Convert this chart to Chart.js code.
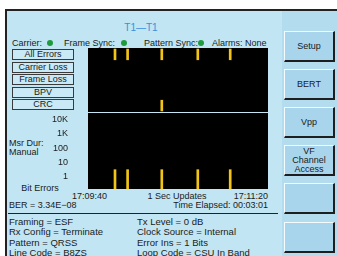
<!DOCTYPE html>
<html>
<head>
<meta charset="utf-8">
<script src="https://cdn.jsdelivr.net/npm/chart.js@4.4.0/dist/chart.umd.min.js"></script>
<style>
body { margin: 0; width: 337px; height: 256px; overflow: hidden; background: #fff; font-family: "Liberation Sans", Arial, sans-serif; color: #1b1b1b; position: relative; }
#screen { position: absolute; left: 5px; top: 9px; width: 332px; height: 247px; background: #c1e5f2; border-left: 2px solid #222; border-top: 2px solid #222; box-sizing: border-box; }
#side { position: absolute; left: 282px; top: 11px; width: 55px; height: 245px; background: #b3dcee; }
.t { position: absolute; white-space: nowrap; font-size: 9px; line-height: 11px; }
.dot { position: absolute; width: 6px; height: 6px; border-radius: 50%; background: #1f9a3f; }
.box { position: absolute; left: 12px; width: 62px; height: 11px; box-sizing: border-box; border: 1px solid #3a3a3a; background: #c8e9f5; font-size: 9px; line-height: 9px; text-align: center; }
.btn { position: absolute; left: 284px; width: 51px; height: 31px; box-sizing: border-box; background: #a8d5eb; border-top: 1px solid #f4fbff; border-left: 1px solid #f4fbff; border-right: 2px solid #1e1e1e; border-bottom: 2px solid #1e1e1e; font-size: 9px; line-height: 9px; text-align: center; display: flex; align-items: center; justify-content: center; }
.b { font-size: 9.5px; }
canvas { position: absolute; }
</style>
</head>
<body>
<div id="screen"></div>
<div id="side"></div>

<div class="t" style="left:100px;top:22px;width:82px;text-align:center;color:#3a8fdc;font-size:10px;">T1—T1</div>

<div class="t" style="left:12px;top:38px;">Carrier:</div>
<div class="dot" style="left:47px;top:40px;"></div>
<div class="t" style="left:64px;top:38px;">Frame Sync:</div>
<div class="dot" style="left:121px;top:40px;"></div>
<div class="t" style="left:144px;top:38px;">Pattern Sync:</div>
<div class="dot" style="left:198px;top:40px;"></div>
<div class="t" style="left:212px;top:38px;">Alarms: None</div>

<div id="rowBoxes"></div>

<div class="t" style="left:9px;top:138px;">Msr Dur:</div>
<div class="t" style="left:9px;top:147px;">Manual</div>
<div class="t" style="left:10px;top:183px;width:60px;text-align:center;">Bit Errors</div>

<div id="timeRow"></div>

<div class="t" style="left:9px;top:200px;">BER = 3.34E−08</div>
<div class="t" style="right:69px;top:200px;">Time Elapsed: 00:03:01</div>
<div style="position:absolute;left:8px;top:213px;width:270px;height:1px;background:#222;"></div>

<div class="t b" style="left:9px;top:216px;">Framing = ESF</div>
<div class="t b" style="left:9px;top:226px;">Rx Config = Terminate</div>
<div class="t b" style="left:9px;top:237px;">Pattern = QRSS</div>
<div class="t b" style="left:9px;top:247px;">Line Code = B8ZS</div>
<div class="t b" style="left:137px;top:216px;">Tx Level = 0 dB</div>
<div class="t b" style="left:137px;top:226px;">Clock Source = Internal</div>
<div class="t b" style="left:137px;top:237px;">Error Ins = 1 Bits</div>
<div class="t b" style="left:137px;top:247px;">Loop Code = CSU In Band</div>

<div class="btn" style="top:31px;">Setup</div>
<div class="btn" style="top:69px;">BERT</div>
<div class="btn" style="top:107px;">Vpp</div>
<div class="btn" style="top:145px;">VF<br>Channel<br>Access</div>
<div class="btn" style="top:183px;"></div>
<div class="btn" style="top:222px;"></div>

<canvas id="events" width="180" height="64" style="left:88px;top:48px;"></canvas>
<canvas id="biterrors" width="228" height="76" style="left:40px;top:113px;"></canvas>

<script>
// event rows, seconds since 17:09:40
var rowNames = ['All Errors', 'Carrier Loss', 'Frame Loss', 'BPV', 'CRC'];
var allErrorsSec = [15, 22, 41, 61, 79];
var carrierLossSec = [];
var frameLossSec = [];
var bpvSec = [];
var crcSec = [41];

// bit error histogram
var bitErrorSec = [15, 22, 41, 61, 79];
var bitErrorCount = [3, 3, 3, 3, 3];
var yTickValues = [1, 10, 100, 1000, 10000];
var yTickLabels = ['1', '10', '100', '1K', '10K'];
var timeLabels = ['17:09:40', '1 Sec Updates', '17:11:20'];

var yellow = '#f2c416';

// left row boxes
var boxes = document.getElementById('rowBoxes');
rowNames.forEach(function(name, i) {
    var d = document.createElement('div');
    d.className = 'box';
    d.style.top = (49 + i * 12.6) + 'px';
    d.textContent = name;
    boxes.appendChild(d);
});

// time labels under the plot
var tr = document.getElementById('timeRow');
var tStyles = ['left:72px;', 'left:127px;width:100px;text-align:center;', 'right:69px;'];
timeLabels.forEach(function(txt, i) {
    var d = document.createElement('div');
    d.className = 't';
    d.style.cssText = tStyles[i] + 'top:191px;';
    d.textContent = txt;
    tr.appendChild(d);
});

var blackArea = {
    id: 'blackArea',
    beforeDraw: function(chart) {
        var a = chart.chartArea, c = chart.ctx;
        c.save();
        c.fillStyle = '#000';
        c.fillRect(a.left, a.top, a.right - a.left, a.bottom - a.top);
        c.restore();
    }
};

Chart.defaults.font.family = '"Liberation Sans", Arial, sans-serif';

// Upper chart - error events per row
var rowSecs = [allErrorsSec, carrierLossSec, frameLossSec, bpvSec, crcSec];
var eventSets = rowSecs.map(function(secs, i) {
    return {
        label: rowNames[i],
        data: secs.map(function(s) { return { x: s, y: [i + 0.08, i + 0.92] }; }),
        backgroundColor: yellow,
        borderWidth: 0,
        barThickness: 2,
        grouped: false
    };
});

new Chart(document.getElementById('events').getContext('2d'), {
    type: 'bar',
    data: { datasets: eventSets },
    options: {
        responsive: false,
        animation: false,
        layout: { padding: 0 },
        plugins: { legend: { display: false }, tooltip: { enabled: false } },
        scales: {
            x: { type: 'linear', min: 0, max: 100, offset: false, display: false },
            y: { type: 'linear', min: 0, max: 5, reverse: true, display: false }
        }
    },
    plugins: [blackArea]
});

// Lower chart - bit errors, log scale
new Chart(document.getElementById('biterrors').getContext('2d'), {
    type: 'bar',
    data: {
        datasets: [{
            label: 'Bit Errors',
            data: bitErrorSec.map(function(s, i) { return { x: s, y: bitErrorCount[i] }; }),
            backgroundColor: yellow,
            borderWidth: 0,
            barThickness: 2
        }]
    },
    options: {
        responsive: false,
        animation: false,
        layout: { padding: 0 },
        plugins: { legend: { display: false }, tooltip: { enabled: false } },
        scales: {
            x: { type: 'linear', min: 0, max: 100, offset: false, display: false },
            y: {
                type: 'logarithmic',
                min: 0.13,
                max: 30000,
                position: 'left',
                grid: { display: false, drawTicks: false },
                border: { display: false },
                afterBuildTicks: function(scale) {
                    scale.ticks = yTickValues.map(function(v) { return { value: v }; });
                },
                afterFit: function(scale) {
                    scale.width = 48;
                    scale.paddingTop = 0;
                    scale.paddingBottom = 0;
                },
                ticks: {
                    autoSkip: false,
                    padding: 20,
                    color: '#1b1b1b',
                    font: { size: 9 },
                    callback: function(v, i) { return yTickLabels[i]; }
                }
            }
        }
    },
    plugins: [blackArea]
});
</script>
</body>
</html>
